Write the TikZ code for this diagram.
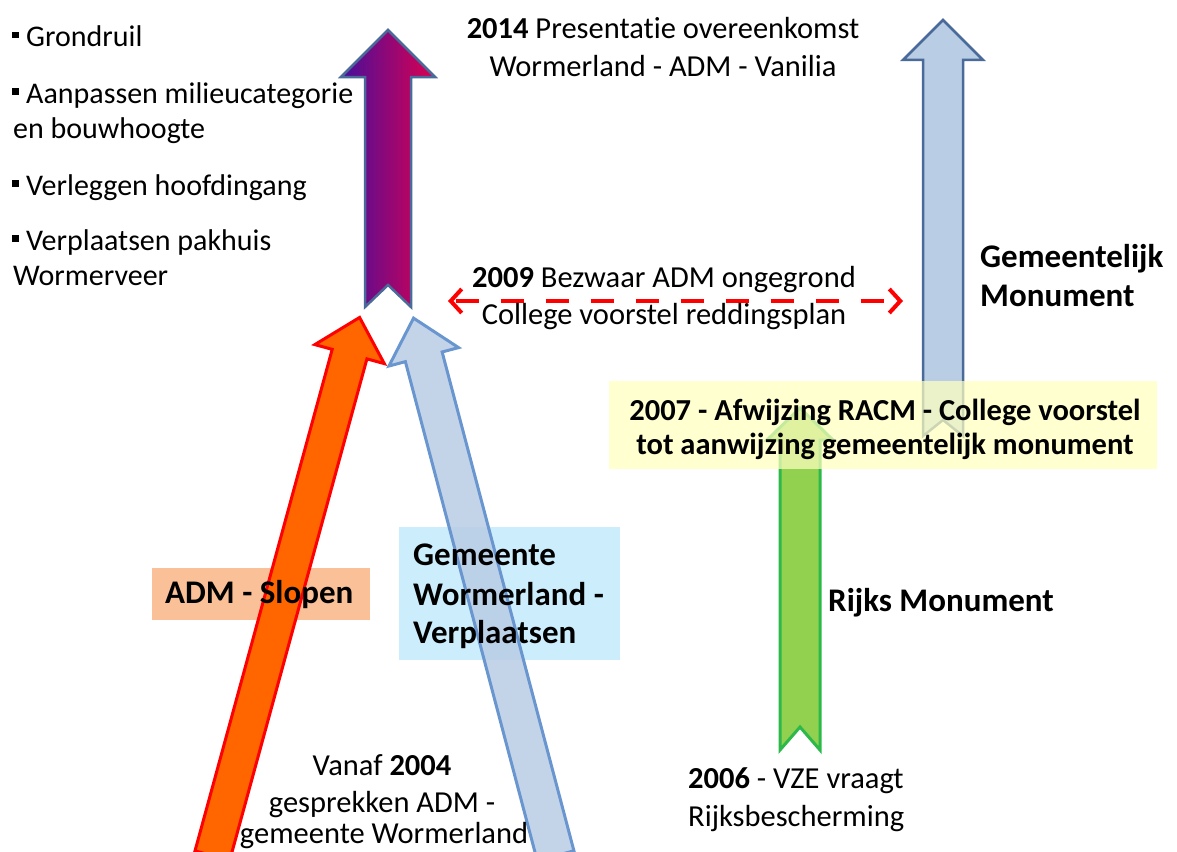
\documentclass[tikz,border=0pt]{standalone}
\usepackage{fontspec}
\setmainfont{Carlito}[Ligatures={NoCommon}]
\usetikzlibrary{arrows.meta}
\definecolor{pbl}{RGB}{70,15,155}
\definecolor{pred}{RGB}{220,0,80}
\definecolor{steel}{RGB}{74,106,154}
\definecolor{lblue}{RGB}{185,205,229}
\definecolor{mblue}{RGB}{106,150,208}
\definecolor{orng}{RGB}{255,102,0}
\definecolor{grn}{RGB}{146,208,80}
\definecolor{dgrn}{RGB}{45,184,74}
\definecolor{boxor}{RGB}{250,192,152}
\definecolor{boxbl}{RGB}{204,238,252}
\definecolor{boxye}{RGB}{255,255,190}
\tikzset{
  txt/.style={inner sep=0pt, font=\fontsize{30.5}{36}\selectfont},
  btxt/.style={inner sep=0pt, font=\fontsize{30.5}{36}\selectfont\bfseries},
  lbl/.style={inner sep=0pt, font=\fontsize{33}{40}\selectfont\bfseries},
  bul/.style={inner sep=0pt, font=\fontsize{30}{36}\selectfont, anchor=base west},
}
\newcommand\bsq{\raisebox{8.5pt}{\rule{6.5pt}{6.5pt}}\hspace{7.5pt}}
\begin{document}
\begin{tikzpicture}[x=1pt,y=-1pt]
\useasboundingbox (0,0) rectangle (1177,851);
\clip (0,0) rectangle (1177,851);
% background boxes
\fill[boxor] (152,568) rectangle (370,620);
\fill[boxbl] (399,527) rectangle (620,660);
% purple arrow
\draw[steel, line width=2.5pt, line join=miter, left color=pbl, right color=pred]
  (365,307) -- (365,77) -- (341,77) -- (388,30) -- (435,77) -- (411,77) -- (411,307) -- (388,285) -- cycle;
% right blue arrow
\draw[steel, line width=2.5pt, fill=lblue]
  (923,436) -- (923,60) -- (903,60) -- (943,20) -- (983,60) -- (963,60) -- (963,436) -- (943,420) -- cycle;
% green arrow
\draw[dgrn, line width=3pt, fill=grn]
  (780,750) -- (780,440) -- (767,440) -- (800,408) -- (833,440) -- (820,440) -- (820,750) -- (800,727) -- cycle;
% orange arrow
\begin{scope}[shift={(215,846)}, rotate=74.7]
\draw[red, line width=3pt, fill=orng]
  (-10,-18) -- (510,-18) -- (510,-36) -- (548,0) -- (510,36) -- (510,18) -- (-10,18) -- cycle;
\end{scope}
% left blue arrow
\begin{scope}[shift={(553,846)}, rotate=104.8]
\draw[mblue, line width=3pt, fill=lblue, fill opacity=0.85]
  (-10,-19) -- (506,-19) -- (506,-36) -- (546,0) -- (506,36) -- (506,19) -- (-10,19) -- cycle;
\end{scope}
% yellow box
\fill[boxye, opacity=0.72] (609,381) rectangle (1157,469);
% dashed double arrow
\coordinate (dl) at (448,301);
\coordinate (dr) at (903,301);
\draw[red, line width=4pt, dash pattern=on 23pt off 22pt, dash phase=-3pt,
  {Straight Barb[length=11pt,width=24pt]}-{Straight Barb[length=11pt,width=24pt]}] (dl) -- (dr);
% bullet list
\node[bul] (b1) at (12,47) {\bsq Grondruil};
\node[bul] (b2) at (12,103) {\bsq Aanpassen milieucategorie};
\node[bul] (b2b) at (13,138) {en bouwhoogte};
\node[bul] (b3) at (12,195) {\bsq Verleggen hoofdingang};
\node[bul] (b4) at (12,250) {\bsq Verplaatsen pakhuis};
\node[bul] (b4b) at (13,285) {Wormerveer};
% 2014
\node[txt, anchor=base] (t14a) at (663,39) {\textbf{2014} Presentatie overeenkomst};
\node[txt, anchor=base] (t14b) at (663,77) {Wormerland - ADM - Vanilia};
% 2009
\node[txt, anchor=base] (t09a) at (664,287) {\textbf{2009} Bezwaar ADM ongegrond};
\node[txt, anchor=base] (t09b) at (664,324) {College voorstel reddingsplan};
% Gemeentelijk monument
\node[lbl, anchor=base west] (gm1) at (980,267) {Gemeentelijk};
\node[lbl, anchor=base west] (gm2) at (980,306) {Monument};
% 2007
\node[btxt, anchor=base] (t07a) at (885,420) {2007 - Afwijzing RACM - College voorstel};
\node[btxt, anchor=base] (t07b) at (885,454) {tot aanwijzing gemeentelijk monument};
% Rijks monument
\node[lbl, anchor=base west] (rm) at (828,611) {Rijks Monument};
% 2006
\node[txt, anchor=base west] (t06a) at (688,788) {\textbf{2006} - VZE vraagt};
\node[txt, anchor=base west] (t06b) at (688,826) {Rijksbescherming};
% 2004
\node[txt, anchor=base] (t04a) at (382,775) {Vanaf \textbf{2004}};
\node[txt, anchor=base] (t04b) at (382,812) {gesprekken ADM -};
\node[txt, anchor=base] (t04c) at (384,843) {gemeente Wormerland};
% box labels
\node[lbl, anchor=base west] (adm) at (165,603) {ADM - Slopen};
\node[lbl, anchor=base west] (gw1) at (413,565) {Gemeente};
\node[lbl, anchor=base west] (gw2) at (413,605) {Wormerland -};
\node[lbl, anchor=base west] (gw3) at (413,643) {Verplaatsen};
\end{tikzpicture}
\end{document}
